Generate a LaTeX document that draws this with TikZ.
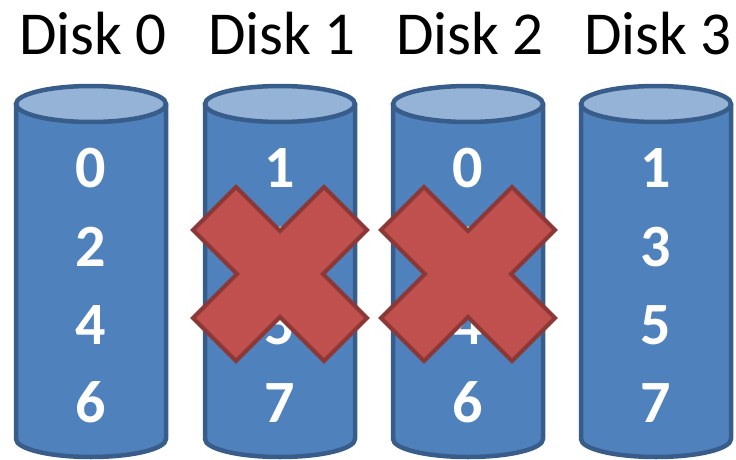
\documentclass[tikz,border=0pt]{standalone}
\usepackage{fontspec}
\setmainfont{Carlito}
\definecolor{diskfill}{HTML}{4F81BD}
\definecolor{diskline}{HTML}{385D8A}
\definecolor{disktop}{HTML}{95B3D7}
\definecolor{failfill}{HTML}{C0504D}
\definecolor{failline}{HTML}{8C3836}
\tikzset{
  disklabel/.style={anchor=base, inner sep=0pt, font=\fontsize{61}{61}\selectfont},
  blocknum/.style={anchor=base, inner sep=0pt, text=white, font=\fontsize{60}{60}\selectfont\bfseries},
  diskbody/.style={fill=diskfill, draw=diskline, line width=4.5pt, line join=round},
  disklid/.style={fill=disktop, draw=diskline, line width=4.5pt},
  failmark/.style={fill=failfill, draw=failline, line width=4pt, line join=miter}
}
\begin{document}
\begin{tikzpicture}[x=1pt,y=1pt]
\useasboundingbox (0,0) rectangle (736,-460);
% four disks with their striped blocks
\foreach \i/\cx/\a/\b/\c/\d in {0/91/0/2/4/6, 1/280/1/3/5/7, 2/468/0/2/4/6, 3/656/1/3/5/7} {
  \node[disklabel] (title\i) at (\cx+2,-55) {Disk \i};
  \path[diskbody] (\cx-75,-104) -- (\cx-75,-439)
     arc[start angle=180, end angle=360, x radius=75, y radius=18]
     -- (\cx+75,-104) -- cycle;
  \path[disklid] (\cx,-104) ellipse [x radius=75, y radius=18];
  \node[blocknum] (blk\i a) at (\cx,-187) {\a};
  \node[blocknum] (blk\i b) at (\cx,-266) {\b};
  \node[blocknum] (blk\i c) at (\cx,-344) {\c};
  \node[blocknum] (blk\i d) at (\cx,-422) {\d};
}
% failed disks crossed out
\foreach \cx in {280,468} {
  \begin{scope}[shift={(\cx,-274)}]
    \path[failmark] (-44,87) -- (0,43) -- (44,87) -- (87,44) -- (43,0)
      -- (87,-44) -- (44,-87) -- (0,-43) -- (-44,-87) -- (-87,-44)
      -- (-43,0) -- (-87,44) -- cycle;
  \end{scope}
}
\end{tikzpicture}
\end{document}
